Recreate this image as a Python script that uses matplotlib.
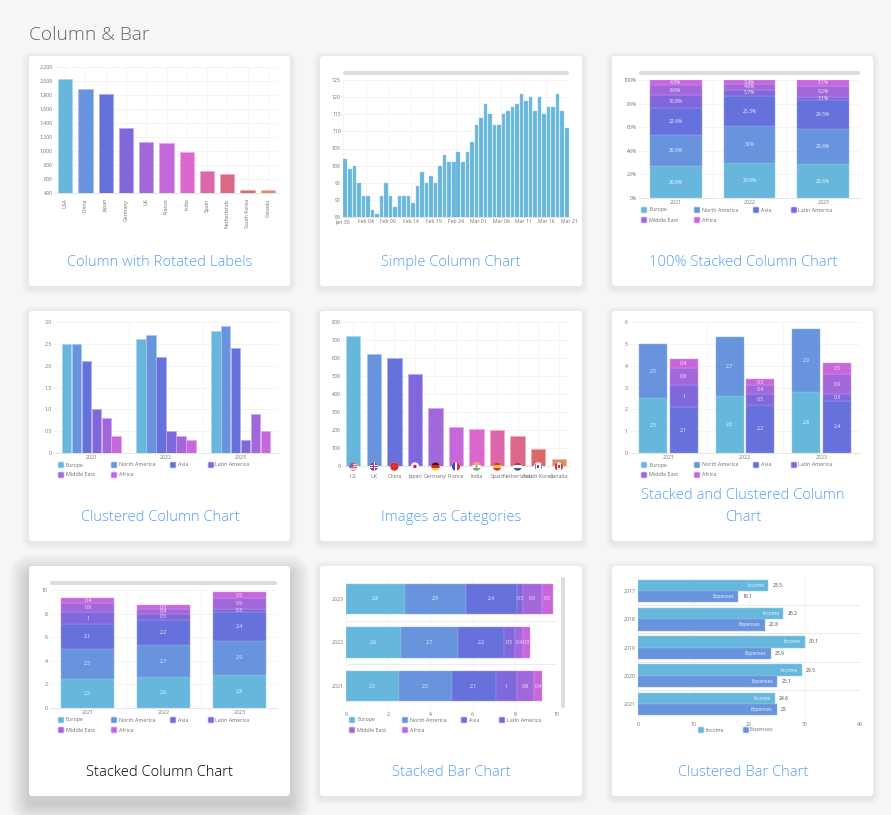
import matplotlib
matplotlib.use("Agg")
import matplotlib.pyplot as plt
from matplotlib.patches import FancyBboxPatch, Rectangle, Circle
from matplotlib.colors import to_rgb

W, H = 891, 815
plt.rcParams['font.family'] = ['Open Sans', 'DejaVu Sans']

PALETTE = ['#67b7dc', '#6794dc', '#6771dc', '#8067dc', '#a367dc', '#c767dc',
           '#dc67ce', '#dc67ab', '#dc6788', '#dc6967', '#dc8c67']

# ---- data ----
rotated_cats = ['USA', 'China', 'Japan', 'Germany', 'UK', 'France', 'India', 'Spain',
                'Netherlands', 'South Korea', 'Canada']
rotated_vals = [2025, 1882, 1809, 1322, 1122, 1114, 984, 711, 665, 443, 441]

simple_vals = [102, 99, 100, 95, 91, 91, 87, 86, 91, 95,
               91, 88, 91, 91, 91, 89, 94, 98, 95, 97,
               95, 100, 103, 101, 101, 104, 101, 104, 107, 112,
               114, 118, 115, 112, 112, 115, 116, 117, 118, 121,
               119, 120, 116, 120, 115, 117, 117, 121, 116, 111]
simple_ticks = ['Jan 30', 'Feb 04', 'Feb 09', 'Feb 14', 'Feb 19', 'Feb 24',
                'Mar 01', 'Mar 06', 'Mar 11', 'Mar 16', 'Mar 21']

years = ['2021', '2022', '2023']
regions = ['Europe', 'North America', 'Asia', 'Latin America', 'Middle East', 'Africa']
europe = [2.5, 2.6, 2.8]
north_america = [2.5, 2.7, 2.9]
asia = [2.1, 2.2, 2.4]
latin_america = [1, 0.5, 0.3]
middle_east = [0.8, 0.4, 0.9]
africa = [0.4, 0.3, 0.5]
region_series = [europe, north_america, asia, latin_america, middle_east, africa]

pct_europe = [26.9, 29.9, 28.6]
pct_north_america = [26.9, 31, 29.6]
pct_asia = [22.6, 25.3, 24.5]
pct_latin_america = [10.8, 5.7, 3.1]
pct_middle_east = [8.6, 4.6, 9.2]
pct_africa = [4.3, 3.4, 5.1]
pct_series = [pct_europe, pct_north_america, pct_asia, pct_latin_america, pct_middle_east, pct_africa]

image_cats = ['US', 'UK', 'China', 'Japan', 'Germany', 'France', 'India', 'Spain',
              'Netherlands', 'South Korea', 'Canada']
image_vals = [725, 625, 602, 509, 322, 214, 204, 198, 165, 93, 41]

bar_years = ['2017', '2018', '2019', '2020', '2021']
income = [23.5, 26.2, 30.1, 29.5, 24.6]
expenses = [18.1, 22.8, 23.9, 25.1, 25]

TITLE_BLUE = '#559ff6'
TICK = '#707070'
GRID = '#f2f2f5'
FS_TICK = 3.7
FS_LEG = 3.9
FS_LAB = 3.6
FS_TITLE = 10.65


def light(c, f=0.3):
    r = to_rgb(c)
    return tuple(x + (1 - x) * f for x in r)


fig = plt.figure(figsize=(W / 100, H / 100), dpi=100, facecolor='#f6f6f7')


def pixel_axes(z):
    a = fig.add_axes([0, 0, 1, 1], zorder=z)
    a.set_xlim(0, W)
    a.set_ylim(H, 0)
    a.axis('off')
    a.patch.set_alpha(0)
    return a


bg = pixel_axes(0)
ov = pixel_axes(10)

bg.text(29, 34.5, 'Column & Bar', fontsize=13.8, color='#666666', va='center', ha='left', fontweight='light')

card_x = [(29, 290), (320, 582), (612, 873)]
card_y = [(56, 286), (311, 541), (566, 796)]
for ri, (t, b) in enumerate(card_y):
    for ci, (l, r) in enumerate(card_x):
        hot = (ri == 2 and ci == 0)
        if hot:
            layers, spread, dy, alpha = 14, 1.4, 8, 0.013
        else:
            layers, spread, dy, alpha = 5, 1.3, 2, 0.012
        for k in range(layers, 0, -1):
            e = k * spread
            bg.add_patch(FancyBboxPatch((l - e, t - e + dy), r - l + 2 * e, b - t + 2 * e,
                                        boxstyle='round,pad=0,rounding_size=%.1f' % (3 + e),
                                        fc='black', ec='none', alpha=alpha))
        bg.add_patch(FancyBboxPatch((l, t), r - l, b - t, boxstyle='round,pad=0,rounding_size=3',
                                    fc='white', ec='none'))


def chart(l, t, r, b):
    a = fig.add_axes([l / W, 1 - b / H, (r - l) / W, (b - t) / H], zorder=5)
    a.patch.set_alpha(0)
    for s in ['top', 'right', 'left']:
        a.spines[s].set_visible(False)
    a.spines['bottom'].set_color('#dfdfe3')
    a.spines['bottom'].set_linewidth(0.6)
    a.tick_params(length=0, labelsize=FS_TICK, labelcolor=TICK, pad=1.5)
    a.grid(True, color=GRID, lw=0.6)
    a.set_axisbelow(True)
    return a


def title(lines, cx, ys, color=TITLE_BLUE):
    for s, y in zip(lines, ys):
        ov.text(cx, y + 1.8, s, fontsize=FS_TITLE, color=color, ha='center', va='center', fontweight='light')


def scrollbar(x0, y0, x1, y1):
    ov.add_patch(FancyBboxPatch((x0, y0), x1 - x0, y1 - y0, boxstyle='round,pad=0,rounding_size=1.8',
                                fc='#dcdcdc', ec='none'))


def legend(names, xs, ys):
    for n, (x, tx), y in zip(names, xs, ys):
        c = PALETTE[names.index(n)]
        ov.add_patch(FancyBboxPatch((x, y - 3), 6, 6, boxstyle='round,pad=0,rounding_size=1',
                                    fc=c, ec=light(c, 0.6), lw=0.5))
        ov.text(tx, y, n, fontsize=FS_LEG, color=TICK, va='center', ha='left')


LEG_A = [(641, 649), (694, 702), (753, 761), (791, 798), (641, 649), (694, 702)]
LEG_B = [(58, 66), (111, 119), (170, 178), (208, 215), (58, 66), (111, 119)]
LEG_C = [(349, 357), (402, 410), (461, 469), (499, 507), (349, 357), (402, 410)]


def leg_y(t):
    return [t, t, t, t, t + 10, t + 10]


def fmt(v):
    return ('%g' % v)


def stacked_col(a, series, labels, width=0.7):
    for j in range(len(years)):
        base = 0
        for i, s in enumerate(series):
            c = PALETTE[i]
            a.bar(j, s[j], width, bottom=base, color=c, edgecolor=light(c), lw=0.35, zorder=3)
            a.text(j, base + s[j] / 2, labels[i][j], fontsize=FS_LAB, color='white', alpha=0.9,
                   ha='center', va='center', zorder=4)
            base += s[j]
    a.set_xlim(-0.5, 2.5)
    a.set_xticks(range(3), years)
    a.set_xticks([0.5, 1.5], minor=True)
    a.tick_params(axis='x', which='minor', length=0)
    a.grid(False, axis='x', which='major')
    a.grid(True, axis='x', which='minor', color=GRID, lw=0.6)


# 1. Column with rotated labels
a = chart(55, 67, 278, 193)
for i, v in enumerate(rotated_vals):
    c = PALETTE[i]
    a.bar(i, v, 0.7, color=c, edgecolor=light(c, 0.45), lw=0.6, zorder=3)
a.set_ylim(400, 2200)
a.set_xlim(-0.5, 10.5)
a.set_yticks(range(400, 2201, 200), ['{:,}'.format(v) for v in range(400, 2201, 200)])
a.set_xticks(range(11), rotated_cats, rotation=90)
a.tick_params(axis='x', pad=4)
title(['Column with Rotated Labels'], 160, [261])

# 2. Simple column
a = chart(343, 80, 569, 217)
for i, v in enumerate(simple_vals):
    a.bar(i + 0.5, v, 0.78, color=PALETTE[0], edgecolor=light(PALETTE[0]), lw=0.3, zorder=3)
a.set_ylim(85, 125)
a.set_xlim(0, 50)
a.set_yticks(range(85, 126, 5))
a.set_xticks(range(0, 51, 5), simple_ticks)
scrollbar(343, 71, 569, 75)
title(['Simple Column Chart'], 451, [261])

# 3. 100% stacked
a = chart(639, 80, 860, 198)
stacked_col(a, pct_series, [[fmt(v) + '%' for v in s] for s in pct_series])
a.set_ylim(0, 100)
a.set_yticks(range(0, 101, 20), ['%d%%' % v for v in range(0, 101, 20)])
scrollbar(639, 71, 860, 75)
legend(regions, LEG_A, leg_y(210))
title(['100% Stacked Column Chart'], 743, [261])

# 4. Clustered column
a = chart(54, 322, 278, 453)
for j in range(3):
    for i, s in enumerate(region_series):
        c = PALETTE[i]
        a.bar(j - 0.4 + 0.8 / 6 * (i + 0.5), s[j], 0.8 / 6 * 0.95, color=c, edgecolor=light(c, 0.45), lw=0.5, zorder=3)
a.set_xlim(-0.5, 2.5)
a.set_ylim(0, 3)
a.set_yticks([0, .5, 1, 1.5, 2, 2.5, 3], ['0', '0.5', '1.0', '1.5', '2.0', '2.5', '3.0'])
a.set_xticks(range(3), years)
a.set_xticks([0.5, 1.5], minor=True)
a.tick_params(axis='x', which='minor', length=0)
a.grid(False, axis='x', which='major')
a.grid(True, axis='x', which='minor', color=GRID, lw=0.6)
legend(regions, LEG_B, leg_y(465))
title(['Clustered Column Chart'], 160, [516])

# 5. Images as categories
a = chart(343, 322, 569, 466)
for i, v in enumerate(image_vals):
    c = PALETTE[i]
    a.bar(i, v, 0.7, color=c, edgecolor=light(c, 0.45), lw=0.6, zorder=3)
a.set_ylim(0, 800)
a.set_xlim(-0.5, 10.5)
a.set_yticks(range(0, 801, 100))
a.set_xticks(range(11), image_cats)
a.tick_params(axis='x', pad=5.5, labelsize=3.8)
title(['Images as Categories'], 451, [516])


def flag(i, kind):
    cx = 343 + (i + 0.5) * (569 - 343) / 11
    cy = 466.5
    R = 4.2
    clip = Circle((cx, cy), R, fc='white', ec='none', zorder=11)
    ov.add_patch(clip)
    x0, y0, d = cx - R, cy - R, 2 * R

    def rect(fx, fy, fw, fh, col):
        p = Rectangle((x0 + fx * d, y0 + fy * d), fw * d, fh * d, fc=col, ec='none', zorder=12)
        ov.add_patch(p)
        p.set_clip_path(clip)

    def dot(r, col):
        p = Circle((cx, cy), r, fc=col, ec='none', zorder=13)
        ov.add_patch(p)

    if kind == 'US':
        for k in range(7):
            rect(0, k / 7, 1, 1 / 7, '#e05a63' if k % 2 == 0 else '#f3d0d3')
        rect(0, 0, 0.5, 0.5, '#5f78b8')
    elif kind == 'UK':
        rect(0, 0, 1, 1, '#3a5aa6')
        rect(0.38, 0, 0.24, 1, '#f4f4f4')
        rect(0, 0.38, 1, 0.24, '#f4f4f4')
        rect(0.44, 0, 0.12, 1, '#d8323f')
        rect(0, 0.44, 1, 0.12, '#d8323f')
    elif kind == 'CN':
        rect(0, 0, 1, 1, '#d92c2c')
        rect(0.28, 0.28, 0.16, 0.16, '#e88a3c')
    elif kind == 'JP':
        dot(1.7, '#d8203a')
    elif kind == 'DE':
        rect(0, 0, 1, 1 / 3, '#1a1a1a')
        rect(0, 1 / 3, 1, 1 / 3, '#d8232a')
        rect(0, 2 / 3, 1, 1 / 3, '#f5c92e')
    elif kind == 'FR':
        rect(0, 0, 1 / 3, 1, '#2a4fb0')
        rect(2 / 3, 0, 1 / 3, 1, '#e0303a')
    elif kind == 'IN':
        rect(0, 0, 1, 1 / 3, '#f2a13f')
        rect(0, 2 / 3, 1, 1 / 3, '#6eae5e')
        dot(1.0, '#5a6fae')
    elif kind == 'ES':
        rect(0, 0, 1, 1, '#d8323a')
        rect(0, 0.28, 1, 0.44, '#f4c430')
    elif kind == 'NL':
        rect(0, 0, 1, 1 / 3, '#c9303f')
        rect(0, 2 / 3, 1, 1 / 3, '#2f58a8')
    elif kind == 'KR':
        rect(0.35, 0.3, 0.3, 0.2, '#d8323f')
        rect(0.35, 0.5, 0.3, 0.2, '#2f4fa0')
        rect(0.08, 0.2, 0.14, 0.6, '#888888')
        rect(0.78, 0.2, 0.14, 0.6, '#888888')
    elif kind == 'CA':
        rect(0, 0, 0.27, 1, '#dc2c35')
        rect(0.73, 0, 0.27, 1, '#dc2c35')
        rect(0.4, 0.35, 0.2, 0.35, '#dc2c35')


for i, k in enumerate(['US', 'UK', 'CN', 'JP', 'DE', 'FR', 'IN', 'ES', 'NL', 'KR', 'CA']):
    flag(i, k)

# 6. Stacked and clustered
a = chart(630, 322, 860, 453)
for j in range(3):
    base = 0
    for i in (0, 1):
        c = PALETTE[i]
        v = region_series[i][j]
        a.bar(j - 0.2, v, 0.365, bottom=base, color=c, edgecolor=light(c), lw=0.35, zorder=3)
        a.text(j - 0.2, base + v / 2, fmt(v), fontsize=FS_LAB, color='white', alpha=0.9, ha='center', va='center', zorder=4)
        base += v
    base = 0
    for i in (2, 3, 4, 5):
        c = PALETTE[i]
        v = region_series[i][j]
        a.bar(j + 0.2, v, 0.365, bottom=base, color=c, edgecolor=light(c), lw=0.35, zorder=3)
        a.text(j + 0.2, base + v / 2, fmt(v), fontsize=FS_LAB, color='white', alpha=0.9, ha='center', va='center', zorder=4)
        base += v
a.set_xlim(-0.5, 2.5)
a.set_ylim(0, 6)
a.set_yticks(range(7))
a.set_xticks(range(3), years)
a.set_xticks([0.5, 1.5], minor=True)
a.tick_params(axis='x', which='minor', length=0)
a.grid(False, axis='x', which='major')
a.grid(True, axis='x', which='minor', color=GRID, lw=0.6)
legend(regions, LEG_A, leg_y(465))
title(['Stacked and Clustered Column', 'Chart'], 743, [494, 516])

# 7. Stacked column
a = chart(50, 590, 277, 708)
stacked_col(a, region_series, [[fmt(v) for v in s] for s in region_series])
a.set_ylim(0, 10)
a.set_yticks(range(0, 11, 2))
scrollbar(50, 581, 277, 585)
legend(regions, LEG_B, leg_y(720))
title(['Stacked Column Chart'], 160, [771], color='#000000')

# 8. Stacked bar
a = chart(346, 577, 557, 708)
for j in range(3):
    base = 0
    for i, s in enumerate(region_series):
        c = PALETTE[i]
        a.barh(j, s[j], 0.7, left=base, color=c, edgecolor=light(c), lw=0.35, zorder=3)
        a.text(base + s[j] / 2, j, fmt(s[j]), fontsize=FS_LAB, color='white', alpha=0.9, ha='center', va='center', zorder=4)
        base += s[j]
a.set_ylim(-0.5, 2.5)
a.set_xlim(0, 10)
a.set_xticks(range(0, 11, 2))
a.set_yticks(range(3), years)
a.set_yticks([0.5, 1.5], minor=True)
a.tick_params(axis='y', which='minor', length=0)
a.grid(False, axis='y', which='major')
a.grid(True, axis='y', which='minor', color='#e9e9ec', lw=0.6)
a.tick_params(axis='x', pad=3)
a.spines['bottom'].set_visible(False)
ov.add_patch(FancyBboxPatch((561, 577), 4, 131, boxstyle='round,pad=0,rounding_size=1.8', fc='#dcdcdc', ec='none'))
legend(regions, LEG_C, leg_y(720))
title(['Stacked Bar Chart'], 451, [771])

# 9. Clustered bar
a = chart(638, 577, 860, 718)
n = len(bar_years)
for j in range(n):
    y = n - 1 - j
    for name, s, off, c in (('Income', income, 0.2, PALETTE[0]), ('Expenses', expenses, -0.2, PALETTE[1])):
        v = s[j]
        a.barh(y + off, v, 0.4, color=c, edgecolor=light(c), lw=0.35, zorder=3)
        a.annotate(name, (v, y + off), xytext=(-3, 0), textcoords='offset points', fontsize=FS_LAB, color='white',
                   alpha=0.9, ha='right', va='center', zorder=4)
        a.annotate(fmt(v), (v, y + off), xytext=(3, 0), textcoords='offset points', fontsize=FS_LAB, color='#444444',
                   ha='left', va='center', zorder=4)
a.set_ylim(-0.5, n - 0.5)
a.set_xlim(0, 40)
a.set_xticks(range(0, 41, 10))
a.set_yticks(range(n), bar_years[::-1])
a.set_yticks([k + 0.5 for k in range(n - 1)], minor=True)
a.tick_params(axis='y', which='minor', length=0)
a.grid(False, axis='y', which='major')
a.grid(True, axis='y', which='minor', color='#e9e9ec', lw=0.6)
a.tick_params(axis='x', pad=3)
a.spines['bottom'].set_visible(False)
legend(['Income', 'Expenses'], [(698, 706), (743, 750)], [730, 730])
title(['Clustered Bar Chart'], 743, [771])

fig.savefig('out.png', dpi=100, facecolor=fig.get_facecolor())
